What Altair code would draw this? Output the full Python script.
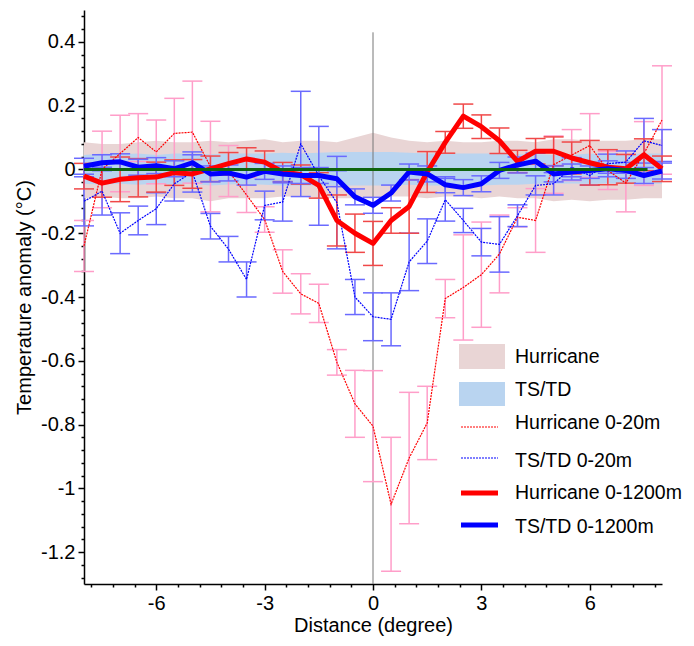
import altair as alt
import pandas as pd

# ---------------- data ----------------
dist = [-8.0, -7.5, -7.0, -6.5, -6.0, -5.5, -5.0, -4.5, -4.0, -3.5, -3.0, -2.5, -2.0, -1.5, -1.0, -0.5,
        0.0, 0.5, 1.0, 1.5, 2.0, 2.5, 3.0, 3.5, 4.0, 4.5, 5.0, 5.5, 6.0, 6.5, 7.0, 7.5, 8.0]

# background spread bands
hur_band_hi = [0.085, 0.08, 0.08, 0.085, 0.09, 0.085, 0.085, 0.09, 0.085, 0.09, 0.095, 0.085, 0.09, 0.09, 0.085, 0.1,
               0.115, 0.1, 0.09, 0.085, 0.09, 0.085, 0.085, 0.09, 0.09, 0.085, 0.095, 0.095, 0.09, 0.09, 0.09, 0.095, 0.095]
hur_band_lo = [-0.09, -0.085, -0.09, -0.09, -0.085, -0.09, -0.09, -0.1, -0.09, -0.09, -0.09, -0.085, -0.085, -0.09, -0.09, -0.09,
               -0.09, -0.085, -0.085, -0.09, -0.085, -0.085, -0.09, -0.085, -0.09, -0.09, -0.1, -0.095, -0.1, -0.095, -0.095, -0.09, -0.09]
ts_band_hi = [0.045, 0.05, 0.048, 0.05, 0.045, 0.05, 0.05, 0.048, 0.05, 0.05, 0.05, 0.052, 0.05, 0.052, 0.055, 0.055,
              0.055, 0.055, 0.052, 0.05, 0.05, 0.05, 0.05, 0.05, 0.048, 0.048, 0.045, 0.045, 0.05, 0.045, 0.048, 0.05, 0.05]
ts_band_lo = [-0.045, -0.047, -0.045, -0.048, -0.045, -0.047, -0.045, -0.05, -0.047, -0.045, -0.048, -0.05, -0.05, -0.05, -0.05, -0.05,
              -0.05, -0.05, -0.048, -0.05, -0.05, -0.05, -0.05, -0.048, -0.048, -0.045, -0.045, -0.044, -0.045, -0.044, -0.045, -0.045, -0.045]

# Hurricane 0-20m
hur20 = [-0.24, 0.0, 0.05, 0.1, 0.055, 0.113, 0.117, 0.009, -0.005, -0.08, -0.157, -0.32, -0.39, -0.42, -0.605, -0.735,
         -0.805, -1.05, -0.905, -0.795, -0.405, -0.37, -0.33, -0.265, -0.15, -0.16, 0.015, 0.045, 0.075, -0.003, -0.043, 0.05, 0.155]
hur20_err = [0.08, 0.12, 0.12, 0.075, 0.1, 0.11, 0.16, 0.142, 0.08, 0.055, 0.04, 0.068, 0.063, 0.06, 0.04, 0.105,
             0.174, 0.21, 0.206, 0.115, 0.06, 0.165, 0.165, 0.122, 0.03, 0.1, 0.09, 0.08, 0.1, 0.06, 0.09, 0.1, 0.17]

# TS/TD 0-20m
ts20 = [-0.1, -0.068, -0.2, -0.16, -0.123, -0.045, -0.008, -0.178, -0.25, -0.345, -0.113, -0.102, 0.08, -0.02, -0.104, -0.4,
        -0.462, -0.47, -0.29, -0.225, -0.095, -0.16, -0.228, -0.235, -0.145, -0.05, -0.045, 0.007, -0.019, 0.018, 0.023, 0.09, 0.075]
ts20_err = [0.077, 0.075, 0.064, 0.045, 0.05, 0.054, 0.063, 0.04, 0.04, 0.055, 0.045, 0.06, 0.165, 0.155, 0.145, 0.055,
            0.075, 0.083, 0.09, 0.07, 0.067, 0.038, 0.043, 0.087, 0.034, 0.03, 0.035, 0.03, 0.03, 0.03, 0.035, 0.07, 0.05]

# Hurricane 0-1200m
hur1200 = [-0.021, -0.043, -0.031, -0.026, -0.024, -0.01, -0.014, 0.002, 0.018, 0.033, 0.023, -0.008, -0.016, -0.05, -0.16, -0.2,
           -0.232, -0.16, -0.116, -0.008, 0.085, 0.167, 0.134, 0.09, 0.025, 0.057, 0.057, 0.036, 0.021, 0.007, 0.002, 0.046, 0.002]
hur1200_err = [0.04, 0.044, 0.07, 0.06, 0.047, 0.04, 0.045, 0.04, 0.035, 0.035, 0.035, 0.03, 0.03, 0.04, 0.08, 0.06,
               0.069, 0.04, 0.084, 0.064, 0.034, 0.038, 0.037, 0.04, 0.035, 0.04, 0.045, 0.05, 0.07, 0.055, 0.045, 0.05, 0.04]

# TS/TD 0-1200m
ts1200 = [0.01, 0.021, 0.024, 0.007, 0.012, 0.002, 0.021, -0.014, -0.011, -0.024, -0.006, -0.014, -0.019, -0.019, -0.029, -0.086,
          -0.1125, -0.074, -0.008, -0.014, -0.048, -0.057, -0.045, -0.003, 0.014, 0.026, -0.014, -0.008, -0.003, 0.002, -0.003, -0.019, -0.005]
ts1200_err = [0.025] * 33

zero_line_x = [-8.0, 7.6]
center_line_y = [-1.3, 0.43]

legend_labels = ["Hurricane", "TS/TD", "Hurricane 0-20m", "TS/TD 0-20m", "Hurricane 0-1200m", "TS/TD 0-1200m"]

# ---------------- styling ----------------
FONT = "Liberation Sans"
C_HUR_BAND = "#e9d5d5"
C_TS_BAND = "#b9d4f0"
C_PINK = "#ff9ec9"
C_BLUEBAR = "#6a6aff"
C_REDBAR = "#f04848"
C_RED = "#ff0000"
C_BLUE = "#0000ff"
C_GREEN = "#0f640f"

df = pd.DataFrame({
    "dist": dist,
    "hb_hi": hur_band_hi, "hb_lo": hur_band_lo,
    "tb_hi": ts_band_hi, "tb_lo": ts_band_lo,
    "hur20": hur20, "hur20_err": hur20_err,
    "ts20": ts20, "ts20_err": ts20_err,
    "hur1200": hur1200, "hur1200_err": hur1200_err,
    "ts1200": ts1200, "ts1200_err": ts1200_err,
})
for s in ["hur20", "ts20", "hur1200", "ts1200"]:
    df[s + "_lo"] = df[s] - df[s + "_err"]
    df[s + "_hi"] = df[s] + df[s + "_err"]

xticks = [round(-7.8 + 0.6 * i, 2) for i in range(27)]
yticks = [round(-1.28 + 0.04 * i, 2) for i in range(45)]

x_major = "abs(datum.value/3 - round(datum.value/3)) < 0.001"
y_major = "abs(datum.value/0.2 - round(datum.value/0.2)) < 0.001"

xaxis = alt.Axis(
    values=xticks, grid=False,
    labelExpr=f"{x_major} ? '' + round(datum.value) : ''",
    tickSize={"condition": {"test": x_major, "value": 6}, "value": 3},
    domainColor="black", domainWidth=1.5, tickColor="black", tickWidth=1.5,
    labelFont=FONT, labelFontSize=20, labelColor="black", labelPadding=3,
    labelOverlap=False, labelFlush=False,
    titleFont=FONT, titleFontSize=20, titleFontWeight="normal", titleColor="black", titlePadding=2,
)
yaxis = alt.Axis(
    values=yticks, grid=False,
    labelExpr=f"{y_major} ? '' + round(datum.value*10)/10 : ''",
    tickSize={"condition": {"test": y_major, "value": 6}, "value": 3},
    domainColor="black", domainWidth=1.5, tickColor="black", tickWidth=1.5,
    labelFont=FONT, labelFontSize=20, labelColor="black", labelPadding=3,
    labelOverlap=False, labelFlush=False,
    titleFont=FONT, titleFontSize=20, titleFontWeight="normal", titleColor="black", titlePadding=6,
)
xscale = alt.Scale(domain=[-8, 8], nice=False, zero=False)
yscale = alt.Scale(domain=[-1.3, 0.5], nice=False, zero=False)


def X(f):
    return alt.X(f, type="quantitative", scale=xscale, axis=xaxis, title="Distance (degree)")


def Y(f):
    return alt.Y(f, type="quantitative", scale=yscale, axis=yaxis, title="Temperature anomaly (°C)")


base = alt.Chart(df)
layers = []

# bands
layers.append(base.mark_area(color=C_HUR_BAND, opacity=1).encode(x=X("dist"), y=Y("hb_lo"), y2="hb_hi"))
layers.append(base.mark_area(color=C_TS_BAND, opacity=1).encode(x=X("dist"), y=Y("tb_lo"), y2="tb_hi"))

# vertical centre line
cl = pd.DataFrame({"x": [0.0], "y0": [center_line_y[0]], "y1": [center_line_y[1]]})
layers.append(alt.Chart(cl).mark_rule(color="#777777", strokeWidth=1).encode(x=X("x"), y=Y("y0"), y2="y1"))

# error bars
for s, col in [("hur20", C_PINK), ("ts20", C_BLUEBAR), ("hur1200", C_REDBAR), ("ts1200", C_BLUEBAR)]:
    layers.append(base.mark_rule(color=col, strokeWidth=1.5).encode(x=X("dist"), y=Y(s + "_lo"), y2=s + "_hi"))
    for end in ["_lo", "_hi"]:
        layers.append(base.mark_tick(color=col, orient="horizontal", size=20, thickness=1.5, opacity=1)
                      .encode(x=X("dist"), y=Y(s + end)))

# lines
layers.append(base.mark_line(color=C_RED, strokeWidth=1.2, strokeDash=[2, 1]).encode(x=X("dist"), y=Y("hur20")))
layers.append(base.mark_line(color=C_BLUE, strokeWidth=1.2, strokeDash=[2, 1]).encode(x=X("dist"), y=Y("ts20")))
layers.append(base.mark_line(color=C_RED, strokeWidth=5, strokeJoin="round").encode(x=X("dist"), y=Y("hur1200")))
layers.append(base.mark_line(color=C_BLUE, strokeWidth=5, strokeJoin="round").encode(x=X("dist"), y=Y("ts1200")))

# zero line
zl = pd.DataFrame({"x0": [zero_line_x[0]], "x1": [zero_line_x[1]], "y": [0.0]})
layers.append(alt.Chart(zl).mark_rule(color=C_GREEN, strokeWidth=3).encode(x=X("x0"), x2="x1", y=Y("y")))

# legend (drawn manually)
dummy = pd.DataFrame({"a": [0]})
LX0, LX1 = 375, 421
layers.append(alt.Chart(dummy).mark_rect(color=C_HUR_BAND).encode(
    x=alt.value(LX0), x2=alt.value(LX1), y=alt.value(334), y2=alt.value(359)))
layers.append(alt.Chart(dummy).mark_rect(color=C_TS_BAND).encode(
    x=alt.value(LX0), x2=alt.value(LX1), y=alt.value(372), y2=alt.value(396)))
line_specs = [
    (417, C_RED, 1.2, [2, 1]),
    (448, C_BLUE, 1.2, [2, 1]),
    (483, C_RED, 5, None),
    (515, C_BLUE, 5, None),
]
for yy, col, w, dash in line_specs:
    kw = dict(color=col, strokeWidth=w)
    if dash:
        kw["strokeDash"] = dash
    layers.append(alt.Chart(dummy).mark_rule(**kw).encode(
        x=alt.value(377), x2=alt.value(414), y=alt.value(yy)))
text_y = [347, 380, 413, 451, 483, 517]
for lab, ty in zip(legend_labels, text_y):
    layers.append(alt.Chart(dummy).mark_text(align="left", baseline="middle", font=FONT, fontSize=19.5,
                                             color="black").encode(
        x=alt.value(431), y=alt.value(ty), text=alt.value(lab)))

chart = alt.layer(*layers).properties(
    width=578, height=574,
    autosize=alt.AutoSizeParams(type="none"),
    padding={"left": 76, "top": 2, "right": 24, "bottom": 54},
).configure_view(stroke=None)

chart.save("out.html", embed_options={"renderer": "svg", "actions": False})
